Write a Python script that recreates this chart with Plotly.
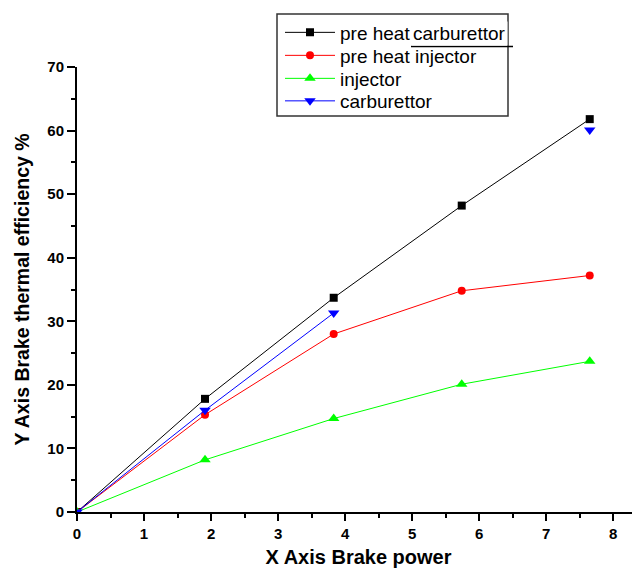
import plotly.graph_objects as go

# ---- data ----
brake_power = [0, 1.91, 3.83, 5.74, 7.65]
pre_heat_carburettor = [0, 17.8, 33.7, 48.2, 61.8]
pre_heat_injector = [0, 15.3, 28.0, 34.8, 37.2]
injector = [0, 8.2, 14.7, 20.1, 23.7]
carburettor = [0, 16.0, 31.3, None, 60.1]

series_names = ["pre heat", "pre heat injector", "injector", "carburettor"]
x_ticks = [0, 1, 2, 3, 4, 5, 6, 7, 8]
y_ticks = [0, 10, 20, 30, 40, 50, 60, 70]

# the page body adds an 8px offset; the figure fills the rest of the window
OFF = 8
W, H = 640 - OFF, 573 - OFF
ML, MR, MT, MB = 77 - OFF, 0, 67 - OFF, 61
PW, PH = W - ML - MR, H - MT - MB


def px_to_paper(px, py):
    """window pixel -> paper coordinates"""
    fx, fy = px - OFF, py - OFF
    return (fx - ML) / PW, (H - MB - fy) / PH


FONT = "Liberation Sans, Arial, sans-serif"

fig = go.Figure()
styles = [
    (pre_heat_carburettor, "#000000", "square", 8),
    (pre_heat_injector, "#FF0000", "circle", 8),
    (injector, "#00FF00", "triangle-up", 10),
    (carburettor, "#0000FF", "triangle-down", 10),
]
legend_ids = ["legend", "legend2", "legend3", "legend4"]
row_y = [32.5, 55.5, 78.5, 101]  # legend row centres (window px)
for name, (vals, col, sym, size), lid in zip(series_names, styles, legend_ids):
    fig.add_trace(go.Scatter(
        x=brake_power, y=vals, name=name, mode="lines+markers",
        connectgaps=False, legend=lid, showlegend=True,
        line=dict(color=col, width=1),
        marker=dict(color=col, symbol=sym, size=size),
    ))

axis_font = dict(family=FONT, size=15, color="black", weight="bold")

fig.update_xaxes(
    range=[0, 8.4], tickvals=x_ticks, ticks="outside", ticklen=7, tickwidth=2,
    tickcolor="black", showline=True, linecolor="black", linewidth=2,
    showgrid=False, zeroline=False, tickfont=axis_font, automargin=False,
    minor=dict(dtick=0.5, ticks="outside", ticklen=4, tickwidth=2, tickcolor="black", showgrid=False),
    title=dict(text="X Axis Brake power", standoff=9,
               font=dict(family=FONT, size=20, color="black", weight="bold")),
)
fig.update_yaxes(
    range=[0, 70], tickvals=y_ticks, ticks="outside", ticklen=8, tickwidth=2,
    tickcolor="black", showline=True, linecolor="black", linewidth=2,
    showgrid=False, zeroline=False, tickfont=axis_font, automargin=False,
    minor=dict(dtick=5, ticks="outside", ticklen=4, tickwidth=2, tickcolor="black", showgrid=False),
    title=dict(text="Y Axis Brake thermal efficiency %", standoff=12,
               font=dict(family=FONT, size=19.5, color="black", weight="bold")),
)

legend_layout = {}
for lid, ry in zip(legend_ids, row_y):
    lx, ly = px_to_paper(280, ry)
    legend_layout[lid] = dict(
        x=lx, y=ly, xanchor="left", yanchor="middle", visible=True,
        borderwidth=0, bgcolor="rgba(0,0,0,0)", itemwidth=50,
        font=dict(family=FONT, size=19, color="black"),
    )

fig.update_layout(
    width=W, height=H, showlegend=True,
    margin=dict(l=ML, r=MR, t=MT, b=MB, autoexpand=False),
    paper_bgcolor="white", plot_bgcolor="white",
    **legend_layout,
)

# legend frame
bx0, by0 = px_to_paper(277, 14)
bx1, by1 = px_to_paper(508, 116)
fig.add_shape(type="rect", xref="paper", yref="paper", x0=bx0, x1=bx1, y0=by1, y1=by0,
              line=dict(color="#333333", width=1.5), fillcolor="rgba(0,0,0,0)")

# overlaid label "carburettor" with underline, as in the reference
ax, ay = px_to_paper(411, 33.5)
fig.add_annotation(xref="paper", yref="paper", x=ax, y=ay, xanchor="left", yanchor="middle",
                   text="carburettor", showarrow=False, bgcolor="white",
                   font=dict(family=FONT, size=19, color="black"))
x0, yl = px_to_paper(411, 46.5)
x1, _ = px_to_paper(513, 46.5)
fig.add_shape(type="line", xref="paper", yref="paper", x0=x0, x1=x1, y0=yl, y1=yl,
              line=dict(color="black", width=1.5))

fig.write_html("out.html")
